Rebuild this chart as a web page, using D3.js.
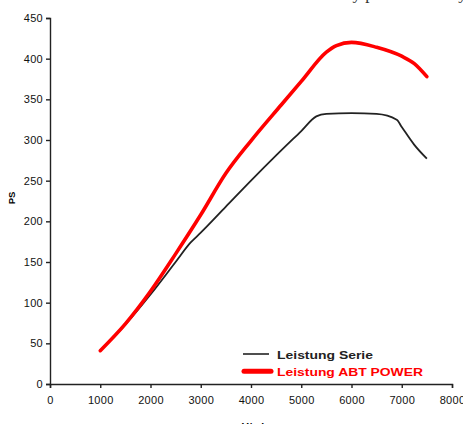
<!DOCTYPE html>
<html>
<head>
<meta charset="utf-8">
<script src="https://cdn.jsdelivr.net/npm/d3@7"></script>
<style>
  body { margin: 0; background: #fff; }
  svg { display: block; }
  .tick text { font-family: Arial, "Liberation Sans", sans-serif; font-size: 11px; fill: #111; letter-spacing: 0.3px; }
  .domain, .tick line { stroke: #222; stroke-width: 1.4; }
</style>
</head>
<body>
<div class="chart"></div>
<script>
// chart data
var serieRpm = [1000, 1500, 2000, 2500, 2800, 3000, 3500, 4000, 4500, 5000, 5300, 5500, 6000, 6500, 6900, 7000, 7250, 7500];
var seriePS  = [41, 73, 110, 150, 174, 186, 218, 250, 281, 311, 329, 332, 333, 332, 325, 316, 294, 277];

var abtRpm = [1000, 1500, 2000, 2500, 3000, 3500, 4000, 4600, 5000, 5500, 5700, 6000, 6500, 7000, 7250, 7500];
var abtPS  = [41, 74, 114, 160, 208, 259, 299, 343, 372, 408, 416, 420, 414, 403, 394, 378];

var xTicks = [0, 1000, 2000, 3000, 4000, 5000, 6000, 7000, 8000];
var yTicks = [0, 50, 100, 150, 200, 250, 300, 350, 400, 450];

var legendLabels = ["Leistung Serie", "Leistung ABT POWER"];

// setting up the chart
var widthSVG = 463;
var heightSVG = 424;
var margins = { top: 18, right: 11, bottom: 40, left: 50 };
var width = widthSVG - margins.left - margins.right;
var height = heightSVG - margins.top - margins.bottom;

var svg = d3.select(".chart")
  .append("svg")
  .attr("width", widthSVG)
  .attr("height", heightSVG);

// clipped line of page text above the chart
svg.append("text")
  .attr("x", 345)
  .attr("y", -1)
  .attr("font-family", "Liberation Serif, serif")
  .attr("font-size", 17)
  .attr("fill", "#333")
  .text("ay power and / by test procedure by");

var g = svg.append("g")
  .attr("transform", `translate(${margins.left}, ${margins.top})`);

var x = d3.scaleLinear().domain([0, 8000]).range([0, width]);
var y = d3.scaleLinear().domain([0, 450]).range([height, 0]);

g.append("g")
  .attr("transform", `translate(0, ${height})`)
  .call(d3.axisBottom(x).tickValues(xTicks).tickFormat(d3.format("d")).tickSize(4).tickSizeOuter(4).tickPadding(8));

g.append("g")
  .call(d3.axisLeft(y).tickValues(yTicks).tickFormat(d3.format("d")).tickSize(4).tickSizeOuter(4).tickPadding(3));

var line = d3.line()
  .x(d => x(d[0]))
  .y(d => y(d[1]))
  .curve(d3.curveMonotoneX);

g.append("path")
  .datum(serieRpm.map((r, i) => [r, seriePS[i]]))
  .attr("fill", "none")
  .attr("stroke", "#222")
  .attr("stroke-width", 1.8)
  .attr("d", line);

g.append("path")
  .datum(abtRpm.map((r, i) => [r, abtPS[i]]))
  .attr("fill", "none")
  .attr("stroke", "#ff0000")
  .attr("stroke-width", 3.6)
  .attr("stroke-linecap", "round")
  .attr("d", line);

// axis labels
svg.append("text")
  .attr("transform", "translate(15, 198) rotate(-90)")
  .attr("text-anchor", "middle")
  .attr("font-family", "Arial, Liberation Sans, sans-serif")
  .attr("font-size", 9.5)
  .attr("font-weight", "bold")
  .text("PS");

svg.append("text")
  .attr("x", 256)
  .attr("y", 431)
  .attr("text-anchor", "middle")
  .attr("font-family", "Arial, Liberation Sans, sans-serif")
  .attr("font-size", 10.5)
  .attr("font-weight", "bold")
  .text("U/min");

// legend
var legend = svg.append("g").attr("transform", "translate(242, 354)");
var legendStyle = [
  { color: "#222", w: 1.6, x1: 1, x2: 27, len: 96 },
  { color: "#ff0000", w: 5, x1: 2, x2: 29, len: 146 }
];
legendLabels.forEach(function (label, i) {
  legend.append("line")
    .attr("x1", legendStyle[i].x1).attr("x2", legendStyle[i].x2)
    .attr("y1", i * 17.3).attr("y2", i * 17.3)
    .attr("stroke", legendStyle[i].color)
    .attr("stroke-width", legendStyle[i].w)
    .attr("stroke-linecap", i ? "round" : "butt");
  legend.append("text")
    .attr("x", 35)
    .attr("y", i * 17.3 + 5)
    .attr("font-family", "Arial, Liberation Sans, sans-serif")
    .attr("font-size", 10.8)
    .attr("font-weight", "bold")
    .attr("textLength", legendStyle[i].len)
    .attr("lengthAdjust", "spacingAndGlyphs")
    .attr("fill", i ? "#ff0000" : "#222")
    .text(label);
});
</script>
</body>
</html>
